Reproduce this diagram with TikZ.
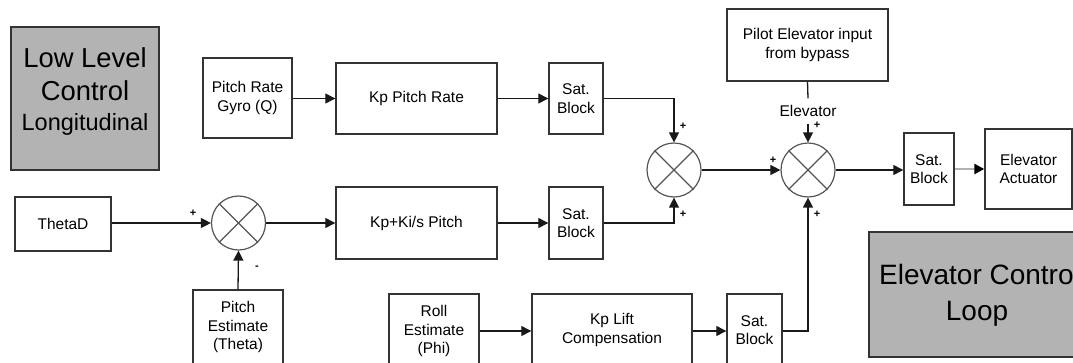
\documentclass[tikz,border=0pt]{standalone}
\usepackage{fontspec}
\setmainfont{Liberation Sans}
\usetikzlibrary{arrows.meta}
\definecolor{boxgray}{RGB}{179,179,179}
\definecolor{edgec}{RGB}{51,51,51}
\definecolor{sumcol}{RGB}{85,85,85}
\definecolor{wirec}{RGB}{25,25,25}
\begin{document}
\begin{tikzpicture}[x=1pt,y=-1pt,
  blk/.style={draw=edgec, line width=1.4pt, fill=white, inner sep=0pt, align=center,
    font=\fontsize{15.5}{18.5}\selectfont},
  gbox/.style={draw=edgec, line width=1.4pt, fill=boxgray, inner sep=0pt},
  sumc/.style={circle, draw=sumcol, line width=1.2pt, minimum size=54pt, inner sep=0pt},
  wire/.style={line width=1.3pt, draw=wirec},
  arr/.style={wire, -{Triangle[length=10pt,width=10pt]}},
  sgn/.style={font=\fontsize{11}{11}\selectfont\bfseries, inner sep=0pt},
  big/.style={inner sep=0pt, anchor=base}
]
\useasboundingbox (0,0) rectangle (1073,362);
\clip (0,0) rectangle (1073,362);

% gray title boxes
\node[gbox, minimum width=148pt, minimum height=143pt] (lowbox) at (85,98.5) {};
\node[big, font=\fontsize{27.4}{30}\selectfont] (lowA) at (85,67) {Low Level};
\node[big, font=\fontsize{27.4}{30}\selectfont] (lowB) at (85,100) {Control};
\node[big, font=\fontsize{23.5}{26}\selectfont] (lowC) at (85,130) {Longitudinal};

\node[gbox, minimum width=218pt, minimum height=125pt] (loopbox) at (978,294.5) {};
\node[big, font=\fontsize{28}{32}\selectfont] (loopA) at (979.5,284) {Elevator Control};
\node[big, font=\fontsize{28}{32}\selectfont] (loopB) at (977,320) {Loop};

% blocks
\node[blk, minimum width=89pt, minimum height=80pt] (gyro) at (247.5,98) {Pitch Rate\\Gyro (Q)};
\node[blk, minimum width=161pt, minimum height=71pt] (kprate) at (416.5,98.5) {Kp Pitch Rate};
\node[blk, minimum width=54pt, minimum height=71pt] (sat1) at (576,98.5) {Sat.\\Block};
\node[blk, minimum width=161pt, minimum height=72pt] (pilot) at (807.5,45) {Pilot Elevator input\\from bypass};
\node[blk, minimum width=96pt, minimum height=54pt] (thetad) at (63,224) {ThetaD};
\node[blk, minimum width=161pt, minimum height=72pt] (kpki) at (416.5,223) {Kp+Ki/s Pitch};
\node[blk, minimum width=54pt, minimum height=72pt] (sat2) at (576,223) {Sat.\\Block};
\node[blk, minimum width=50pt, minimum height=72pt] (sat3) at (929,169) {Sat.\\Block};
\node[blk, minimum width=87pt, minimum height=80pt] (act) at (1028.5,169) {Elevator\\Actuator};
\node[blk, minimum width=90pt, minimum height=74pt] (pitchest) at (238,327) {Pitch\\Estimate\\(Theta)};
\node[blk, minimum width=90pt, minimum height=74pt] (roll) at (434,331) {Roll\\Estimate\\(Phi)};
\node[blk, minimum width=160pt, minimum height=72pt] (kplift) at (612,330) {Kp Lift\\Compensation};
\node[blk, minimum width=55pt, minimum height=72pt] (sat4) at (754.5,330) {Sat.\\Block};

% summing junctions
\foreach \n/\p in {sum1/{(674,170)}, sum2/{(238.5,223)}, sum3/{(808,170)}}{
  \node[sumc] (\n) at \p {};
  \draw[sumcol, line width=1.1pt] (\n.north east) -- (\n.south west)
        (\n.north west) -- (\n.south east);
}

% elevator label
\node[inner sep=0pt, minimum height=25pt, font=\fontsize{15.5}{18.5}\selectfont] (elevlbl) at (808,111) {Elevator};

% connectors
\draw[arr] (gyro.east |- kprate.west) -- (kprate.west);
\draw[arr] (kprate.east) -- (sat1.west);
\draw[arr] (sat1.east) -| (sum1.north);
\draw[arr] (sat2.east) -| (sum1.south);
\draw[arr] (sum1.east) -- (sum3.west);
\draw[wire] (pilot.south) -- (elevlbl.north);
\draw[arr] (elevlbl.south) -- (sum3.north);
\draw[arr] (sum3.east) -- (sum3.east -| sat3.west);
\draw[line width=2.4pt, draw=black!30, -{Triangle[length=10pt,width=10pt,color=black]}] (sat3.east) -- (act.west);
\draw[arr] (thetad.east |- sum2.west) -- (sum2.west);
\draw[arr] (pitchest.north) -- (sum2.south);
\draw[arr] (sum2.east) -- (kpki.west);
\draw[arr] (kpki.east) -- (sat2.west);
\draw[arr] (roll.east) -- (roll.east -| kplift.west);
\draw[arr] (kplift.east |- roll.east) -- (roll.east -| sat4.west);
\draw[arr] (sat4.east |- roll.east) -| (sum3.south);

% signs
\node[sgn] (p1) at (683,126) {+};
\node[sgn] (p2) at (683,214) {+};
\node[sgn] (p3) at (773,160) {+};
\node[sgn] (p4) at (817,125) {+};
\node[sgn] (p5) at (817,214) {+};
\node[sgn] (p6) at (193,213) {+};
\node[sgn] (m1) at (257,268) {-};
\end{tikzpicture}
\end{document}
